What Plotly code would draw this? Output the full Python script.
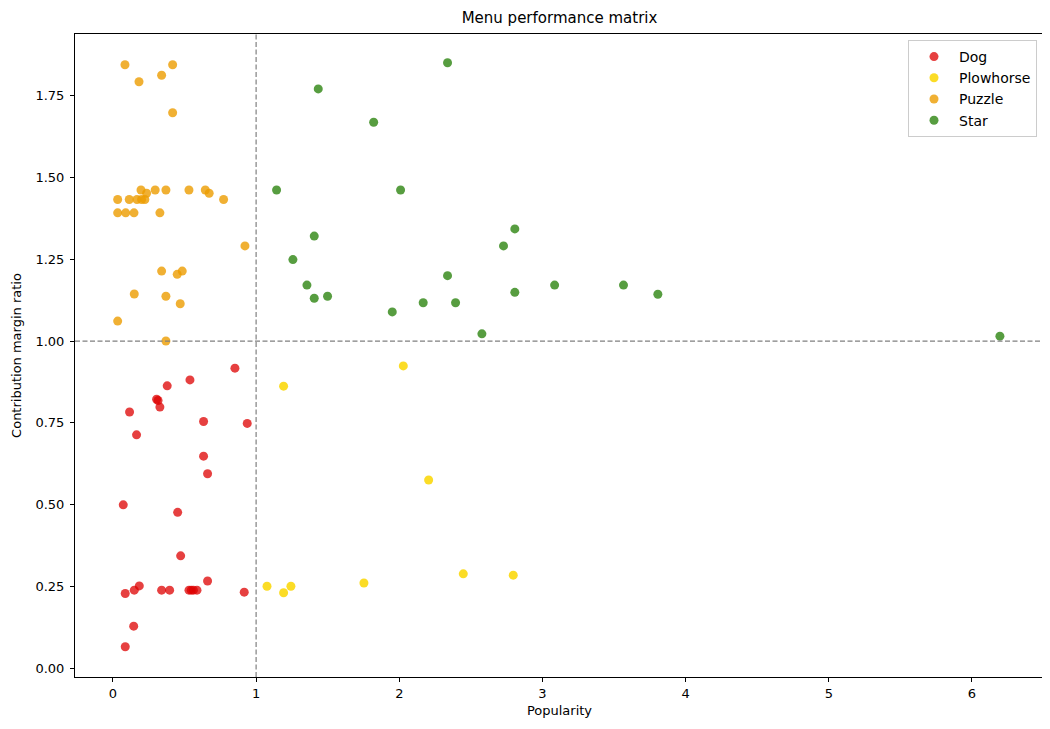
import plotly.graph_objects as go

# ---------------- data ----------------
dog_x = [0.852, 0.538, 0.379, 0.305, 0.315, 0.328, 0.116, 0.633, 0.938, 0.165,
         0.633, 0.661, 0.072, 0.452, 0.473, 0.661, 0.184, 0.149, 0.086, 0.340,
         0.396, 0.531, 0.547, 0.562, 0.587, 0.917, 0.145, 0.086]
dog_y = [0.917, 0.881, 0.863, 0.822, 0.818, 0.798, 0.783, 0.754, 0.748, 0.713,
         0.648, 0.594, 0.499, 0.476, 0.343, 0.266, 0.251, 0.238, 0.228, 0.238,
         0.238, 0.238, 0.238, 0.238, 0.238, 0.232, 0.128, 0.065]

plow_x = [2.028, 1.192, 2.205, 2.447, 2.796, 1.753, 1.076, 1.243, 1.192]
plow_y = [0.924, 0.862, 0.575, 0.288, 0.284, 0.260, 0.250, 0.250, 0.230]

puzzle_x = [0.084, 0.417, 0.340, 0.182, 0.417, 0.196, 0.235, 0.295, 0.370, 0.531,
            0.645, 0.672, 0.773, 0.033, 0.114, 0.168, 0.200, 0.223, 0.033, 0.089,
            0.147, 0.328, 0.922, 0.340, 0.449, 0.484, 0.149, 0.370, 0.470, 0.033,
            0.370]
puzzle_y = [1.845, 1.845, 1.813, 1.793, 1.698, 1.462, 1.452, 1.462, 1.462, 1.462,
            1.462, 1.452, 1.433, 1.433, 1.433, 1.433, 1.433, 1.433, 1.392, 1.392,
            1.392, 1.392, 1.291, 1.214, 1.204, 1.214, 1.144, 1.137, 1.114, 1.061,
            1.000]

star_x = [2.337, 1.434, 1.821, 1.143, 2.009, 2.807, 1.406, 2.728, 1.257, 2.337,
          1.355, 2.807, 1.406, 1.499, 2.167, 2.393, 1.951, 3.085, 3.566, 3.806,
          2.577, 6.195]
star_y = [1.851, 1.771, 1.669, 1.462, 1.462, 1.343, 1.321, 1.291, 1.249, 1.200,
          1.171, 1.149, 1.131, 1.137, 1.117, 1.117, 1.089, 1.171, 1.171, 1.143,
          1.022, 1.015]

x_ticks = [0, 1, 2, 3, 4, 5, 6]
y_ticks = [0.0, 0.25, 0.5, 0.75, 1.0, 1.25, 1.5, 1.75]
pop_threshold = 1.0
cm_threshold = 1.0

series = [
    ("Dog", dog_x, dog_y, "rgba(222,0,0,0.75)"),
    ("Plowhorse", plow_x, plow_y, "rgba(250,214,0,0.85)"),
    ("Puzzle", puzzle_x, puzzle_y, "rgba(236,156,0,0.8)"),
    ("Star", star_x, star_y, "rgba(40,130,10,0.78)"),
]

W, H = 1042, 721
ML, MR, MT, MB = 67, 6, 26, 52
PW, PH = W - ML - MR, H - MT - MB

fig = go.Figure()
for name, xs, ys, col in series:
    fig.add_trace(go.Scatter(
        x=xs, y=ys, mode="markers", name=name,
        marker=dict(size=9, color=col, line=dict(width=0)),
    ))

dash_line = dict(color="gray", width=1.2, dash="5px,2.5px")
fig.add_shape(type="line", xref="x", yref="paper", x0=pop_threshold, x1=pop_threshold,
              y0=0, y1=1, line=dash_line, layer="above")
fig.add_shape(type="line", xref="paper", yref="y", x0=0, x1=1, y0=cm_threshold,
              y1=cm_threshold, line=dash_line, layer="above")

axis_common = dict(
    showgrid=False, zeroline=False, showline=True, linecolor="black", linewidth=1,
    mirror=True, ticks="outside", ticklen=4, tickcolor="black",
    tickfont=dict(family="DejaVu Sans", size=13, color="black"),
)

fig.update_layout(
    width=W, height=H,
    margin=dict(l=ML, r=MR, t=MT, b=MB),
    paper_bgcolor="white", plot_bgcolor="white",
    title=dict(text="Menu performance matrix", x=(ML + PW / 2) / W, xanchor="center",
               y=1 - 10 / H, yanchor="middle",
               font=dict(family="DejaVu Sans", size=15, color="black")),
    xaxis=dict(range=[-0.265, 6.503], tickvals=x_ticks,
               title=dict(text="Popularity", standoff=6,
                          font=dict(family="DejaVu Sans", size=13, color="black")),
               **axis_common),
    yaxis=dict(range=[-0.0275, 1.939], tickvals=y_ticks, tickformat=".2f",
               ticklabelstandoff=3,
               title=dict(text="Contribution margin ratio", standoff=10,
                          font=dict(family="DejaVu Sans", size=13, color="black")),
               **axis_common),
    legend=dict(x=(1029 - ML) / PW, y=1 - 6 / PH, xanchor="right", yanchor="top",
                bgcolor="rgba(255,255,255,0.85)", bordercolor="#cccccc", borderwidth=1,
                font=dict(family="DejaVu Sans", size=14, color="black"),
                itemsizing="trace", itemwidth=40),
    showlegend=True,
)

fig.write_html("out.html")
